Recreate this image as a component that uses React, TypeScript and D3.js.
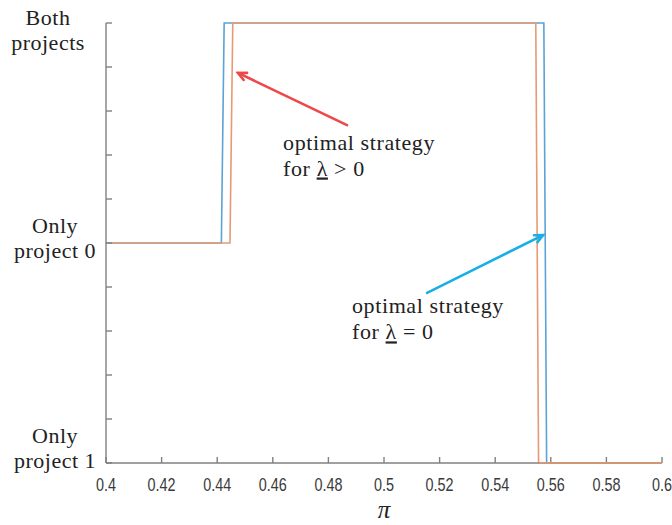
import React from "react";
import * as d3 from "d3";

// Data (x = π, y = strategy level: 0 = only project 1, 1 = only project 0, 2 = both)
const blueX = [0.4, 0.4415, 0.4425, 0.5575, 0.5585, 0.6];
const blueY = [1, 1, 2, 2, 0, 0];
const orangeX = [0.4, 0.4446, 0.4456, 0.5546, 0.5556, 0.6];
const orangeY = [1, 1, 2, 2, 0, 0];
const xTicks = [0.4, 0.42, 0.44, 0.46, 0.48, 0.5, 0.52, 0.54, 0.56, 0.58, 0.6];
const yTicks = [0, 0.2, 0.4, 0.6, 0.8, 1, 1.2, 1.4, 1.6, 1.8, 2];
const catValues = [2, 1, 0];
const catLines = [["Both", "projects"], ["Only", "project 0"], ["Only", "project 1"]];

const W = 672, H = 525;
const M = { left: 106, right: 10, top: 23, bottom: 62 };

export default function App() {
  const x = d3.scaleLinear().domain([0.4, 0.6]).range([M.left, 662]);
  const y = d3.scaleLinear().domain([0, 2]).range([463, M.top]);
  const line = d3.line<[number, number]>().x(d => x(d[0])).y(d => y(d[1]));
  const blue = blueX.map((v, i) => [v, blueY[i]] as [number, number]);
  const orange = orangeX.map((v, i) => [v, orangeY[i]] as [number, number]);
  const axisColor = "#808080";
  const serif = "'Liberation Serif', 'DejaVu Serif', serif";

  const catPos = [
    { cx: 48, dy: [2, 27] },
    { cx: 55, dy: [-10, 15] },
    { cx: 55, dy: [-20, 5] },
  ];

  const arrow = (x1: number, y1: number, x2: number, y2: number, color: string) => {
    const X1 = x(x1), Y1 = y(y1), X2 = x(x2), Y2 = y(y2);
    const ang = Math.atan2(Y2 - Y1, X2 - X1);
    const L = 9, a = 0.45;
    const p1 = [X2 - L * Math.cos(ang - a), Y2 - L * Math.sin(ang - a)];
    const p2 = [X2 - L * Math.cos(ang + a), Y2 - L * Math.sin(ang + a)];
    return (
      <g stroke={color} strokeWidth={2.6} fill="none" strokeLinecap="round">
        <line x1={X1} y1={Y1} x2={X2} y2={Y2} />
        <polyline points={`${p1[0]},${p1[1]} ${X2},${Y2} ${p2[0]},${p2[1]}`} />
      </g>
    );
  };

  const label = (xv: number, yv: number, rel: string) => (
    <text x={x(xv)} y={y(yv)} fontFamily={serif} fontSize={22} letterSpacing={0.6} fill="#222">
      <tspan x={x(xv)}>optimal strategy</tspan>
      <tspan x={x(xv)} dy={26}>for </tspan>
      <tspan textDecoration="underline">λ</tspan>
      <tspan>{` ${rel}`}</tspan>
    </text>
  );

  return (
    <svg width={W} height={H} style={{ position: "absolute", left: 0, top: 0, background: "#fff" }}>
      {/* lines */}
      <path d={line(blue) || ""} fill="none" stroke="#5aa3d6" strokeWidth={1.6} />
      <path d={line(orange) || ""} fill="none" stroke="#e69a74" strokeWidth={1.6} />

      {/* axes */}
      <g stroke={axisColor} strokeWidth={1.4}>
        <line x1={x(0.4)} y1={y(0)} x2={x(0.6)} y2={y(0)} />
        <line x1={x(0.4)} y1={y(0)} x2={x(0.4)} y2={y(2)} />
        {xTicks.map(t => (
          <line key={"xt" + t} x1={x(t)} x2={x(t)} y1={y(0)} y2={y(0) - 6} />
        ))}
        {yTicks.map(t => (
          <line key={"yt" + t} x1={x(0.4)} x2={x(0.4) + 6} y1={y(t)} y2={y(t)} />
        ))}
      </g>
      {/* orange bottom segment drawn above axis */}
      <path d={line(orange.slice(4)) || ""} fill="none" stroke="#e69a74" strokeWidth={1.6} />

      {xTicks.map(t => (
        <text key={"xl" + t} transform={`translate(${x(t)},491) scale(0.8,1)`} textAnchor="middle"
          fontFamily="'Liberation Sans', Arial, sans-serif" fontSize={18} fill="#3a3a3a">
          {d3.format("~g")(t)}
        </text>
      ))}
      <text x={384} y={518} textAnchor="middle" fontFamily={serif} fontStyle="italic" fontSize={25} fill="#222">π</text>

      {catValues.map((v, i) => (
        <text key={"c" + i} textAnchor="middle" fontFamily={serif} fontSize={22} letterSpacing={0.5} fill="#222">
          <tspan x={catPos[i].cx} y={y(v) + catPos[i].dy[0]}>{catLines[i][0]}</tspan>
          <tspan x={catPos[i].cx} y={y(v) + catPos[i].dy[1]}>{catLines[i][1]}</tspan>
        </text>
      ))}

      {arrow(0.4867, 1.536, 0.4475, 1.773, "#ee4848")}
      {arrow(0.5155, 0.773, 0.5572, 1.036, "#19aee6")}
      {label(0.4637, 1.425, ">\u00a00")}
      {label(0.4885, 0.68, "=\u00a00")}
    </svg>
  );
}
